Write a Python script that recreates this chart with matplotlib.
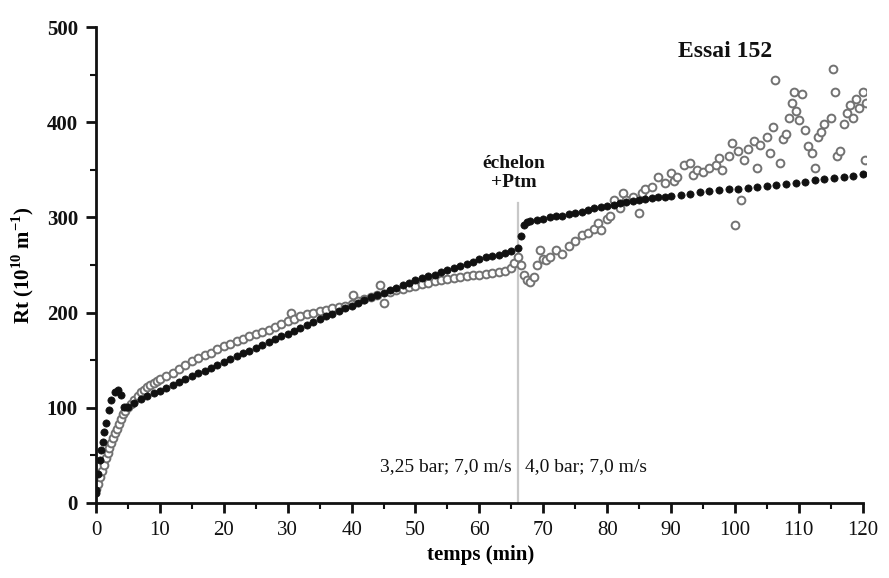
import matplotlib
matplotlib.use("Agg")
import matplotlib.pyplot as plt
from matplotlib.ticker import MultipleLocator

plt.rcParams['font.family'] = ['Liberation Serif', 'DejaVu Serif']
plt.rcParams['mathtext.fontset'] = 'custom'
plt.rcParams['mathtext.rm'] = 'Liberation Serif'
plt.rcParams['mathtext.bf'] = 'Liberation Serif:bold'

# ---------------- data ----------------
black_t = [0, 0.05, 0.3, 0.6, 0.85, 1.1, 1.3, 1.6, 2.0, 2.4, 2.9, 3.4, 3.9, 4.4,
           5, 6, 7, 8, 9, 10, 11, 12, 13, 14, 15, 16, 17, 18, 19, 20,
           21, 22, 23, 24, 25, 26, 27, 28, 29, 30, 31, 32, 33, 34, 35, 36, 37, 38, 39, 40,
           41, 42, 43, 44, 45, 46, 47, 48, 49, 50, 51, 52, 53, 54, 55, 56, 57, 58, 59, 60,
           61, 62, 63, 64, 65, 66, 66.5, 67, 67.5, 68, 69, 70,
           71, 72, 73, 74, 75, 76, 77, 78, 79, 80, 81, 82, 83, 84, 85, 86, 87, 88, 89, 90,
           91.5, 93, 94.5, 96, 97.5, 99, 100.5, 102, 103.5, 105, 106.5, 108, 109.5,
           111, 112.5, 114, 115.5, 117, 118.5, 120]
black_rt = [10, 14, 30, 45, 56, 64, 75, 84, 98, 108, 117, 119, 113, 101,
            101, 105, 109, 112, 115, 118, 121, 124, 127, 130, 133, 136, 139, 142, 145, 148,
            151, 154, 157, 160, 163, 166, 169, 172, 175, 178, 181, 184, 187, 190, 193, 196, 199, 202, 205, 207,
            210, 213, 216, 218, 221, 224, 226, 229, 231, 234, 236, 238, 240, 243, 245, 247, 249, 251, 253, 256,
            258, 259, 261, 263, 265, 268, 280, 292, 295, 296, 297, 298,
            300, 301, 302, 304, 305, 306, 308, 310, 311, 312, 313, 315, 316, 317, 318, 319, 320, 321, 322, 323,
            324, 325, 327, 328, 329, 330, 330, 331, 332, 333, 334, 335, 336,
            337, 339, 340, 341, 342, 344, 346]

gray_t = [0, 0.3, 0.6, 0.9, 1.2, 1.5, 1.8, 2.1, 2.4, 2.7, 3.0, 3.3, 3.6, 3.9, 4.2, 4.5,
          5, 5.5, 6, 6.5, 7, 7.5, 8, 8.5, 9, 9.5, 10,
          11, 12, 13, 14, 15, 16, 17, 18, 19, 20, 21, 22, 23, 24, 25, 26, 27, 28, 29, 30,
          30.5, 31, 32, 33, 34, 35, 36, 37, 38, 39, 40, 40.3, 41, 42, 43, 44, 44.5, 45,
          46, 47, 48, 49, 50, 51, 52, 53, 54, 55, 56, 57, 58, 59, 60, 61, 62, 63, 64, 65,
          65.5, 66, 66.5, 67, 67.5, 68, 68.5, 69, 69.5, 70, 70.5, 71, 72, 73, 74, 75, 76, 77,
          78, 78.5, 79, 80, 80.5, 81, 82, 82.5, 83, 84, 85, 85.5, 86, 87, 88, 89, 90, 90.5,
          91, 92, 93, 93.5, 94, 95, 96, 97, 97.5, 98, 99, 99.5, 100, 100.5, 101, 101.5,
          102, 103, 103.5, 104, 105, 105.5, 106, 106.2, 107, 107.5, 108, 108.5, 109, 109.3,
          109.6, 110, 110.5, 111, 111.5, 112, 112.5, 113, 113.5, 114, 115, 115.4, 115.6,
          116, 116.5, 117, 117.5, 118, 118.5, 119, 119.5, 120, 120.3, 120.5]
gray_rt = [15, 20, 27, 33, 40, 47, 52, 58, 63, 68, 73, 78, 83, 88, 93, 97,
           101, 104, 108, 112, 116, 119, 122, 124, 126, 128, 130,
           133, 137, 141, 145, 149, 152, 155, 158, 162, 165, 167, 170, 172, 175, 177, 180, 182, 185, 188, 191,
           200, 193, 196, 198, 200, 202, 203, 205, 206, 207, 209, 218, 212, 214, 216, 218, 229, 210,
           222, 224, 225, 227, 228, 230, 231, 233, 234, 235, 236, 237, 238, 239, 240, 241, 242, 243, 244, 247,
           252, 258, 250, 240, 234, 232, 237, 250, 266, 256, 255, 258, 266, 262, 270, 275, 282, 284,
           288, 294, 287, 298, 302, 318, 310, 326, 318, 322, 305, 326, 330, 332, 342, 336, 347, 338,
           342, 355, 357, 345, 350, 348, 352, 355, 362, 350, 365, 378, 292, 370, 318, 360,
           372, 380, 352, 376, 385, 368, 395, 444, 357, 382, 388, 405, 420, 432,
           412, 402, 430, 392, 375, 368, 352, 385, 390, 398, 405, 456, 432,
           365, 370, 398, 410, 418, 405, 425, 415, 432, 360, 420]

step_time = 66
x_ticks = [0, 10, 20, 30, 40, 50, 60, 70, 80, 90, 100, 110, 120]
y_ticks = [0, 100, 200, 300, 400, 500]

# ---------------- figure ----------------
fig = plt.figure(figsize=(8.89, 5.78), dpi=100)
ax = fig.add_axes([0.108, 0.13, 0.866, 0.823])

ax.plot([step_time, step_time], [0, 315], color='#c8c8c8', lw=1.6, zorder=1)

ax.plot(gray_t, gray_rt, linestyle='none', marker='o', ms=5.6, mfc='white',
        mec='#727272', mew=1.4, zorder=2)
ax.plot(black_t, black_rt, linestyle='none', marker='o', ms=5.2, mfc='#111111',
        mec='#111111', mew=0.5, zorder=3)

ax.set_xlim(0, 120.5)
ax.set_ylim(0, 500)
ax.set_xticks(x_ticks)
ax.set_yticks(y_ticks)
ax.xaxis.set_minor_locator(MultipleLocator(5))
ax.yaxis.set_minor_locator(MultipleLocator(50))

for s in ['top', 'right']:
    ax.spines[s].set_visible(False)
for s in ['left', 'bottom']:
    ax.spines[s].set_linewidth(2.0)
    ax.spines[s].set_color('#111111')
ax.spines['bottom'].set_bounds(0, 120)

ax.tick_params(axis='both', which='major', direction='out', length=7, width=2,
               colors='#111111', labelsize=15, pad=6)
ax.tick_params(axis='both', which='minor', direction='out', length=4, width=1.5,
               colors='#111111')
for lab in ax.get_yticklabels():
    lab.set_fontweight('bold')

ax.set_xlabel('temps (min)', fontsize=15, fontweight='bold', labelpad=4)
ax.set_ylabel(r'Rt (10$^{\mathbf{10}}$ m$^{\mathbf{-1}}$)', fontsize=15,
              fontweight='bold', labelpad=8)

ax.text(98.5, 474, 'Essai 152', fontsize=17, fontweight='bold', ha='center',
        va='center', color='#111111')
ax.text(65.4, 347, 'échelon\n+Ptm', fontsize=14, fontweight='bold', ha='center',
        va='center', linespacing=1.15, color='#111111')
ax.text(65.0, 38, '3,25 bar; 7,0 m/s', fontsize=14, ha='right', va='center',
        color='#111111')
ax.text(67.1, 38, '4,0 bar; 7,0 m/s', fontsize=14, ha='left', va='center',
        color='#111111')

fig.savefig('out.png', dpi=100)
